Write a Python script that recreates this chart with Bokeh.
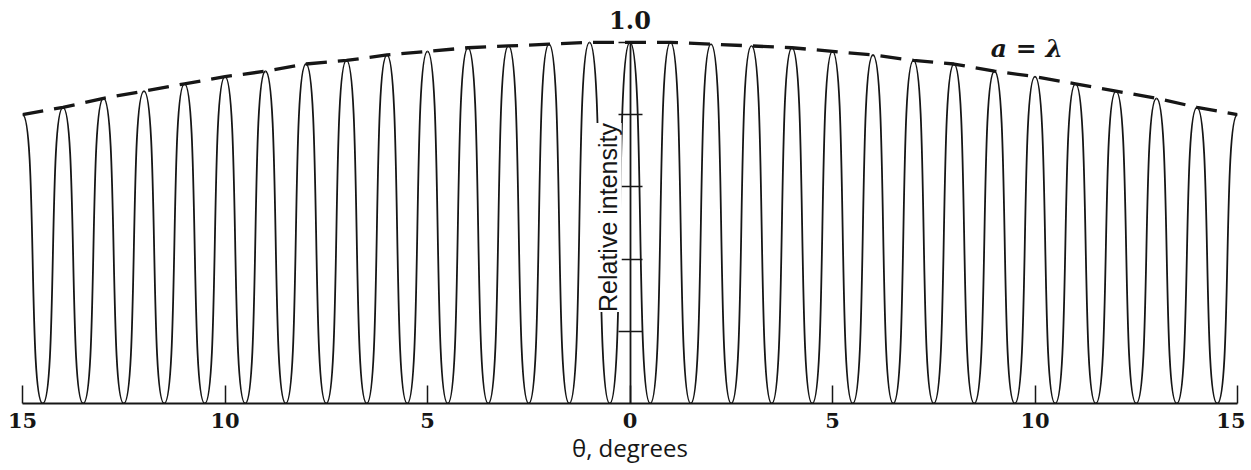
from math import pi
from bokeh.plotting import figure
from bokeh.models import (ColumnDataSource, FixedTicker, Label, LinearAxis, Range1d)
from bokeh.embed import file_html
from bokeh.resources import INLINE

# ---- data ----
theta_peaks = [-15, -14, -13, -12, -11, -10, -9, -8, -7, -6, -5, -4, -3, -2, -1, 0,
               1, 2, 3, 4, 5, 6, 7, 8, 9, 10, 11, 12, 13, 14, 15]
peak_heights = [0.80, 0.82, 0.845, 0.865, 0.885, 0.905, 0.92, 0.94, 0.95, 0.965, 0.975,
                0.985, 0.99, 0.995, 1.0, 1.0, 1.0, 0.995, 0.99, 0.985, 0.975, 0.965,
                0.95, 0.94, 0.92, 0.905, 0.885, 0.865, 0.845, 0.82, 0.80]
theta_troughs = [-14.5, -13.5, -12.5, -11.5, -10.5, -9.5, -8.5, -7.5, -6.5, -5.5, -4.5,
                 -3.5, -2.5, -1.5, -0.5, 0.5, 1.5, 2.5, 3.5, 4.5, 5.5, 6.5, 7.5, 8.5,
                 9.5, 10.5, 11.5, 12.5, 13.5, 14.5]
trough_heights = [0.0, 0.0, 0.0, 0.0, 0.0, 0.0, 0.0, 0.0, 0.0, 0.0, 0.0, 0.0, 0.0, 0.0, 0.0,
                  0.0, 0.0, 0.0, 0.0, 0.0, 0.0, 0.0, 0.0, 0.0, 0.0, 0.0, 0.0, 0.0, 0.0, 0.0]
x_tick_values = [-15, -10, -5, 0, 5, 10, 15]
x_tick_labels = ["15", "10", "5", "0", "5", "10", "15"]
y_tick_values = [0.2, 0.4, 0.6, 0.8, 1.0]

# ---- build half-fringe bezier table from the data ----
SHARP = 0.7  # shape of each fringe flank (style)
x0, y0, x1, y1, cx0, cy0, cx1, cy1 = [], [], [], [], [], [], [], []
for k, (t, tv) in enumerate(zip(theta_troughs, trough_heights)):
    for j in (k, k + 1):
        pk, hk = theta_peaks[j], peak_heights[j]
        L = pk - t
        x0.append(t); y0.append(tv)
        x1.append(pk); y1.append(hk)
        cx0.append(t + SHARP * L); cy0.append(tv)
        cx1.append(pk - SHARP * L); cy1.append(hk)
src = ColumnDataSource(dict(x0=x0, y0=y0, x1=x1, y1=y1, cx0=cx0, cy0=cy0, cx1=cx1, cy1=cy1))

ink = "#161616"

p = figure(width=1245, height=466, output_backend="svg", toolbar_location=None,
           x_range=Range1d(-15, 15), y_range=Range1d(0, 1.102),
           y_axis_location=None, min_border_left=22, min_border_right=8,
           min_border_top=5, min_border_bottom=61)
p.outline_line_color = None
p.xgrid.visible = False
p.ygrid.visible = False
p.background_fill_color = "white"

# fringes
p.bezier(x0="x0", y0="y0", x1="x1", y1="y1", cx0="cx0", cy0="cy0", cx1="cx1", cy1="cy1",
         source=src, line_color=ink, line_width=1.8)

# envelope (dashed)
p.line(theta_peaks, peak_heights, line_color=ink, line_width=3.3, line_dash="21 11")

# x axis
xa = p.xaxis[0]
xa.ticker = FixedTicker(ticks=x_tick_values)
xa.major_label_overrides = {v: s for v, s in zip(x_tick_values, x_tick_labels)}
xa.minor_tick_line_color = None
xa.major_tick_in = 18
xa.major_tick_out = 0
xa.major_tick_line_width = 1.5
xa.major_tick_line_color = ink
xa.axis_line_width = 2
xa.axis_line_color = ink
xa.major_label_standoff = 9
xa.major_label_text_font = "DejaVu Serif"
xa.major_label_text_font_style = "bold"
xa.major_label_text_font_size = "21px"
xa.major_label_text_color = ink
xa.axis_label = "θ, degrees"
xa.axis_label_text_font = "Open Sans"
xa.axis_label_text_font_style = "normal"
xa.axis_label_text_font_size = "24px"
xa.axis_label_text_color = ink
xa.axis_label_standoff = 0

# central intensity axis (no tick labels)
ya = LinearAxis(fixed_location=0, bounds=(0, 1.0), ticker=FixedTicker(ticks=y_tick_values))
ya.major_label_overrides = {v: "" for v in y_tick_values}
ya.major_label_text_color = None
ya.major_label_standoff = 0
ya.minor_tick_line_color = None
ya.major_tick_in = 12
ya.major_tick_out = 12
ya.major_tick_line_width = 1.5
ya.major_tick_line_color = ink
ya.axis_line_width = 1.8
ya.axis_line_color = ink
p.add_layout(ya, "left")

p.add_layout(Label(x=-0.55, y=0.515, text="Relative intensity", angle=pi / 2,
                   text_align="center", text_baseline="middle",
                   text_font="Liberation Sans", text_font_size="25px", text_color=ink,
                   background_fill_color="white"))
p.add_layout(Label(x=0, y=1.0, y_offset=13, text="1.0", text_align="center",
                   text_baseline="bottom", text_font="DejaVu Serif",
                   text_font_style="bold", text_font_size="24px", text_color=ink))
p.add_layout(Label(x=9.8, y=0.983, text="a = λ", text_align="center",
                   text_baseline="middle", text_font="DejaVu Serif",
                   text_font_style="bold italic", text_font_size="25px", text_color=ink))

open("out.html", "w").write(file_html(p, INLINE))
